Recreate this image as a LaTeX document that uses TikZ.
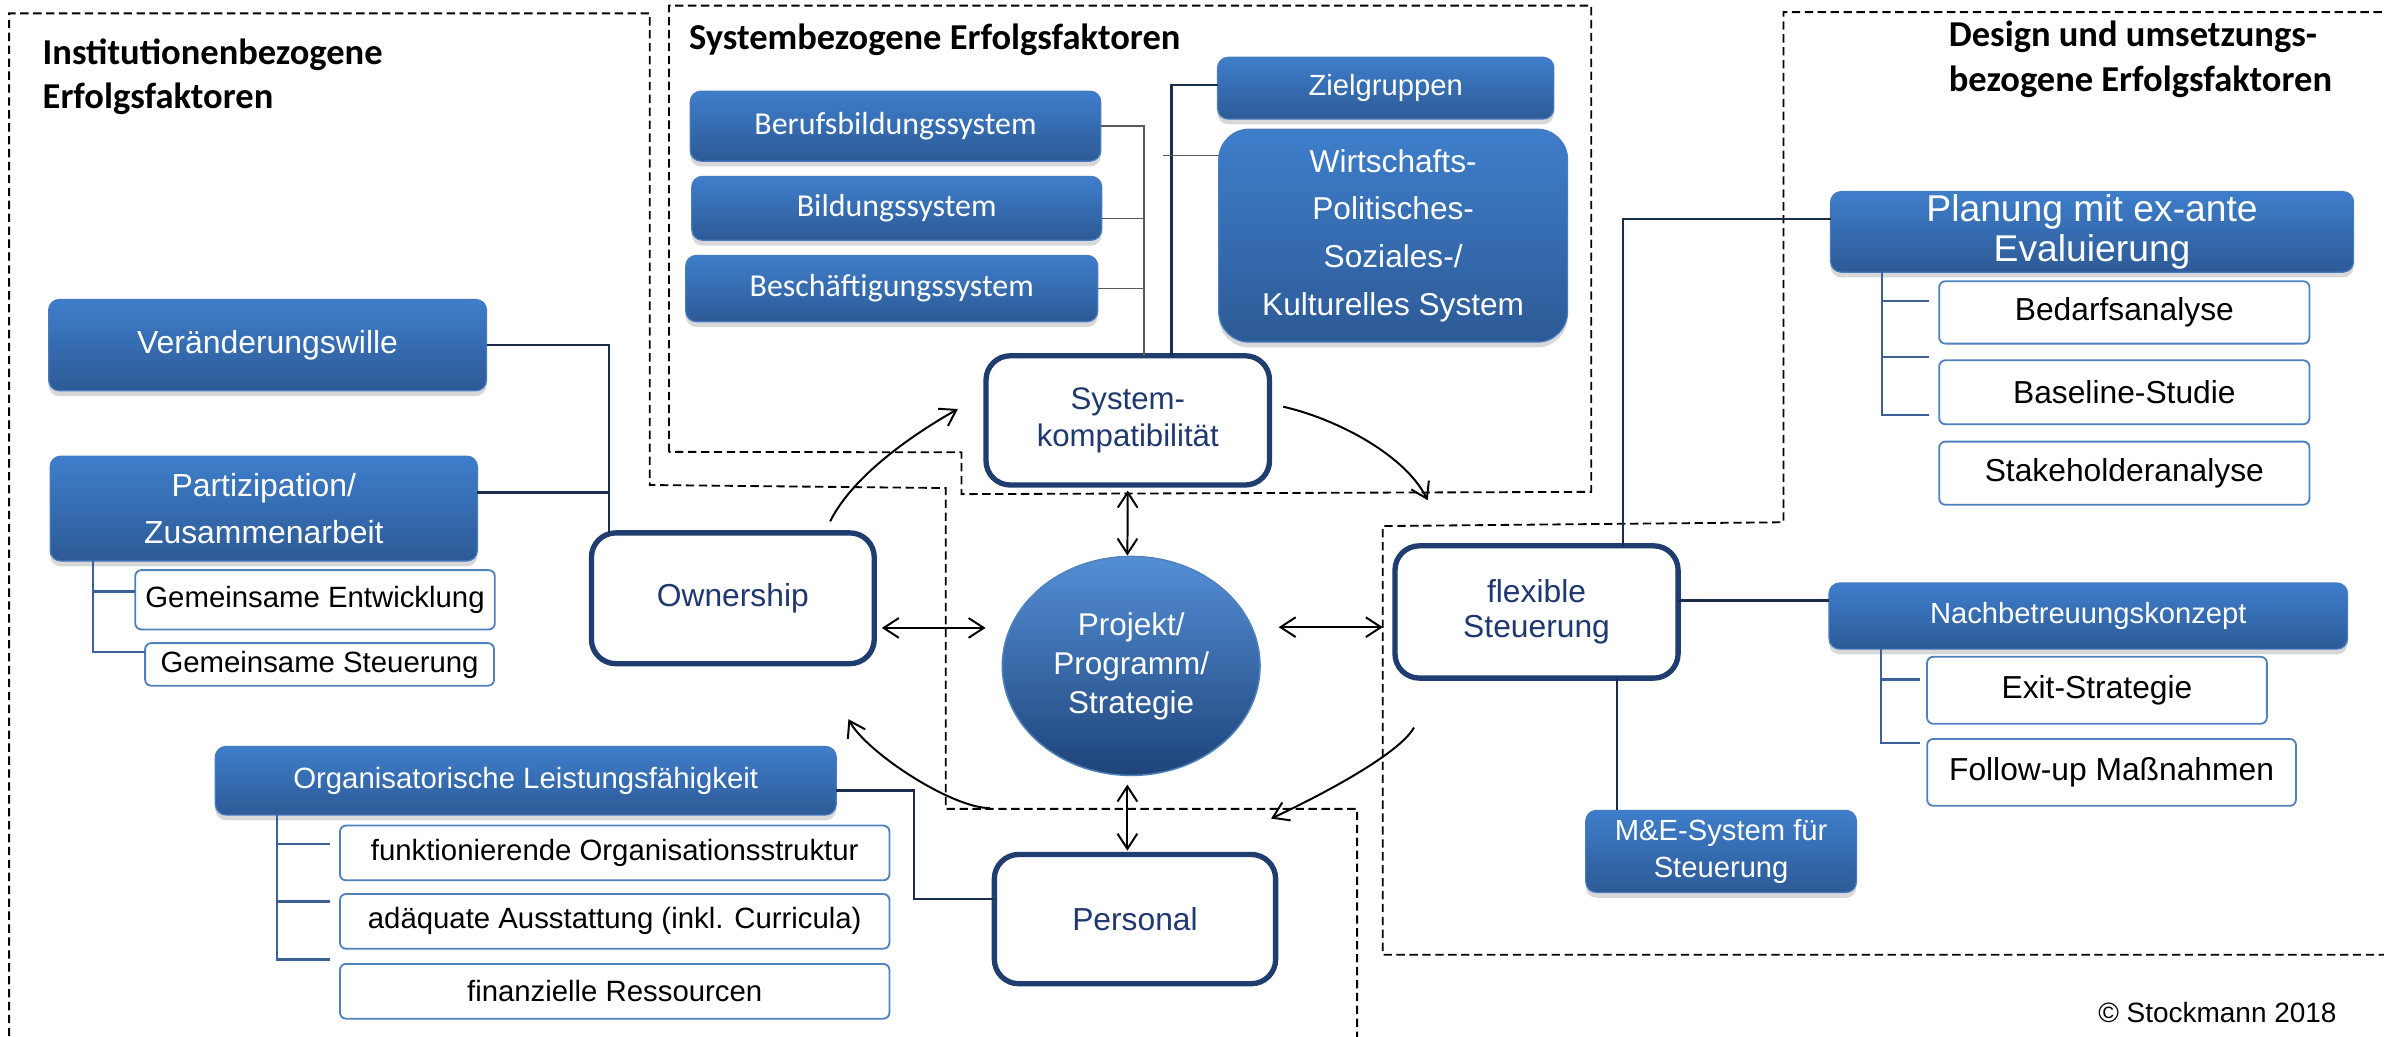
\documentclass[tikz,border=0pt]{standalone}
\usepackage{fontspec}
\setmainfont{Liberation Sans}
\newfontfamily\calib{Carlito}
\usetikzlibrary{shapes.geometric,shadows,arrows.meta,calc}
\definecolor{bltop}{RGB}{62,126,203}
\definecolor{blbot}{RGB}{45,90,150}
\definecolor{blbrd}{RGB}{72,122,192}
\definecolor{wbrd}{RGB}{79,129,189}
\definecolor{navy}{RGB}{31,61,110}
\definecolor{navytext}{RGB}{31,56,112}
\definecolor{connc}{RGB}{28,45,75}
\definecolor{treec}{RGB}{60,95,150}
\definecolor{etop}{RGB}{84,143,214}
\definecolor{ebot}{RGB}{30,68,122}
\newcommand\myfs[2]{\fontsize{#1}{#2}\selectfont}
\tikzset{
  bluebox/.style={draw=blbrd, line width=0.8pt, rounded corners=7pt, top color=bltop, bottom color=blbot,
    text=white, align=center, inner sep=0pt, outer sep=0pt,
    drop shadow={shadow xshift=0pt, shadow yshift=-3.5pt, opacity=0.3}},
  wbox/.style={draw=wbrd, line width=1.2pt, rounded corners=4pt, fill=white, align=center,
    inner sep=0pt, outer sep=0pt},
  mainbox/.style={draw=navy, line width=3.5pt, rounded corners=16pt, fill=white, text=navytext,
    align=center, inner sep=0pt, outer sep=0pt},
  conn/.style={draw=connc, line width=1.5pt},
  thinc/.style={draw=black!65, line width=1pt},
  tree/.style={draw=treec, line width=1.5pt},
  region/.style={draw=black, line width=1.2pt, dash pattern=on 5.5pt off 3pt},
  dbl/.style={line width=1.3pt, {Straight Barb[length=10pt,width=13pt]}-{Straight Barb[length=10pt,width=13pt]}},
  carc/.style={line width=1.3pt, -{Straight Barb[length=10pt,width=13pt]}},
  heading/.style={anchor=west, align=left, inner sep=0pt, font=\calib\bfseries\myfs{24}{28.5}},
}
\begin{document}
\begin{tikzpicture}[x=1pt,y=-1pt]
\useasboundingbox (0,0) rectangle (1568,681.4);
\fill[white] (0,0) rectangle (1568,681.4);

% dashed regions
\draw[region] (6,690) -- (6,8.8) -- (427.3,8.8) -- (427.3,319) -- (622,321) -- (622,532) -- (892.6,532) -- (892.6,690);
\draw[region] (440,297.2) -- (440,3.7) -- (1046.6,3.7) -- (1046.6,323.5) -- (632.4,325) -- (632.4,297.5) -- cycle;
\draw[region] (1575,8) -- (1173,8) -- (1173,343.5) -- (909.5,346) -- (909.5,628) -- (1575,628);

% headings
\node[heading] (h1) at (27.9,50.5) {Institutionenbezogene\\Erfolgsfaktoren};
\node[heading] (h2) at (453,26.3) {Systembezogene Erfolgsfaktoren};
\node[heading, font=\calib\bfseries\myfs{24}{29.7}] (h3) at (1281.6,38.9) {Design und umsetzungs-\\bezogene Erfolgsfaktoren};

% blue boxes
\node[bluebox, minimum width=270pt, minimum height=46pt, font=\calib\myfs{21}{25}] (beruf) at (589,83) {Berufsbildungssystem};
\node[bluebox, minimum width=269.6pt, minimum height=42pt, font=\calib\myfs{21}{25}] (bildung) at (589.8,137) {Bildungssystem};
\node[bluebox, minimum width=271pt, minimum height=43.6pt, font=\calib\myfs{21}{25}] (besch) at (586.5,189.8) {Beschäftigungssystem};
\node[bluebox, minimum width=221.2pt, minimum height=40.6pt, font=\myfs{19.2}{23}] (ziel) at (911.4,58) {Zielgruppen};
\node[bluebox, rounded corners=20pt, minimum width=229.4pt, minimum height=140pt, font=\myfs{20.8}{31.4}] (wirt) at (916.3,155) {Wirtschafts-\\Politisches-\\Soziales-/\\Kulturelles System};
\node[bluebox, minimum width=288pt, minimum height=60pt, font=\myfs{21}{25}] (veraend) at (176,227) {Veränderungswille};
\node[bluebox, minimum width=281pt, minimum height=69pt, font=\myfs{21}{30.4}] (partiz) at (173.5,334.5) {Partizipation/\\Zusammenarbeit};
\node[bluebox, minimum width=408.4pt, minimum height=45pt, font=\myfs{19.3}{23}] (organis) at (345.8,513.5) {Organisatorische Leistungsfähigkeit};
\node[bluebox, minimum width=344pt, minimum height=53pt, font=\myfs{24.5}{26}] (planung) at (1376,152.5) {Planung mit ex-ante\\Evaluierung};
\node[bluebox, minimum width=341pt, minimum height=43.5pt, font=\myfs{19.2}{23}] (nachbetr) at (1373.5,405.2) {Nachbetreuungskonzept};
\node[bluebox, minimum width=178pt, minimum height=54pt, font=\myfs{19.2}{24.6}] (me) at (1132,560) {M\&E-System für\\Steuerung};

% white boxes
\node[wbox, minimum width=236.5pt, minimum height=39pt, font=\myfs{19.3}{23}] (gentw) at (207.2,394.5) {Gemeinsame Entwicklung};
\node[wbox, minimum width=229.5pt, minimum height=28pt, font=\myfs{19.3}{23}] (gsteu) at (210.2,437) {Gemeinsame Steuerung};
\node[wbox, minimum width=361.4pt, minimum height=36pt, font=\myfs{19.3}{23}] (funkt) at (404.3,561) {funktionierende Organisationsstruktur};
\node[wbox, minimum width=361.4pt, minimum height=36pt, font=\myfs{19.3}{23}] (adaeq) at (404.3,606) {adäquate Ausstattung (inkl. Curricula)};
\node[wbox, minimum width=361.4pt, minimum height=36pt, font=\myfs{19.3}{23}] (finanz) at (404.3,652) {finanzielle Ressourcen};
\node[wbox, minimum width=243.5pt, minimum height=41pt, font=\myfs{20.9}{25}] (bedarf) at (1397.2,205.5) {Bedarfsanalyse};
\node[wbox, minimum width=243.5pt, minimum height=42pt, font=\myfs{20.9}{25}] (baseline) at (1397.2,258) {Baseline-Studie};
\node[wbox, minimum width=243.5pt, minimum height=41.5pt, font=\myfs{20.9}{25}] (stakeh) at (1397.2,311.2) {Stakeholderanalyse};
\node[wbox, minimum width=223.5pt, minimum height=44pt, font=\myfs{20.9}{25}] (exit) at (1379.2,454) {Exit-Strategie};
\node[wbox, minimum width=242.5pt, minimum height=44pt, font=\myfs{20.9}{25}] (followup) at (1388.8,508) {Follow-up Maßnahmen};

% main boxes
\node[mainbox, minimum width=186.5pt, minimum height=85pt, font=\myfs{20.5}{24}] (syskomp) at (741.75,276.5) {System-\\kompatibilität};
\node[mainbox, minimum width=186pt, minimum height=86pt, font=\myfs{20.9}{25}] (owner) at (482,393.5) {Ownership};
\node[mainbox, minimum width=186.2pt, minimum height=87pt, font=\myfs{20.9}{23.3}] (flex) at (1010.6,402.5) {flexible\\Steuerung};
\node[mainbox, minimum width=185pt, minimum height=85pt, font=\myfs{20.9}{25}] (personal) at (746.5,604.5) {Personal};

% centre ellipse
\node[ellipse, draw=wbrd, line width=1pt, top color=etop, bottom color=ebot, text=white,
  minimum width=169.5pt, minimum height=144pt, inner sep=0pt, outer sep=0pt, align=center,
  font=\myfs{20.7}{25.6}] (projekt) at (744,438) {Projekt/\\Programm/\\Strategie};

% copyright
\node[anchor=east, inner sep=0pt, font=\myfs{18.4}{22}] (copy) at (1537,666) {© Stockmann 2018};

% connectors left
\coordinate (ownTop) at ([xshift=-81.5pt]owner.north);
\draw[conn] (veraend.east) -| (ownTop);
\draw[conn] ([yshift=10.5pt]partiz.east) -- ([yshift=10.5pt]partiz.east -| ownTop);
\draw[conn] ([yshift=-6.5pt]organis.east) -| ([xshift=-53pt,yshift=13pt]personal.west) -- ([yshift=13pt]personal.west);

% connectors top
\coordinate (skA) at ([xshift=10.75pt]syskomp.north);
\draw[thinc] (beruf.east) -| (skA);
\draw[thinc] ([yshift=-6.6pt]bildung.east) -- ([yshift=-6.6pt]bildung.east -| skA);
\draw[thinc] (besch.east) -- (besch.east -| skA);
\draw[conn] ([xshift=28.75pt]syskomp.north) |- ([yshift=2pt]ziel.west);
\draw[thinc] ([yshift=52.6pt]wirt.west) -- ([yshift=52.6pt,xshift=-36.6pt]wirt.west);

% connectors right
\draw[conn] ([xshift=57pt]flex.north) |- ([yshift=8.5pt]planung.west);
\draw[conn] ([yshift=7.5pt]flex.east) -- ([yshift=7.5pt]flex.east -| nachbetr.west);
\draw[conn] ([xshift=53pt]flex.south) -- ([xshift=53pt]flex.south |- me.north);

% trees
\coordinate (pT) at ([xshift=-112.5pt]partiz.south);
\draw[tree] (pT) |- ([yshift=5.5pt]gentw.west);
\draw[tree] (pT) |- ([yshift=8pt]gsteu.west);
\coordinate (oT) at ([xshift=-163.8pt]organis.south);
\draw[tree] (oT) |- ([xshift=-6.6pt,yshift=6pt]funkt.west);
\draw[tree] (oT) |- ([xshift=-6.6pt,yshift=13pt]adaeq.west);
\draw[tree] (oT) |- ([xshift=-6.6pt,yshift=21pt]finanz.west);
\coordinate (plT) at ([xshift=-138pt]planung.south);
\draw[tree] (plT) |- ([xshift=-7pt,yshift=7.5pt]bedarf.west);
\draw[tree] (plT) |- ([xshift=-7pt,yshift=23pt]baseline.west);
\draw[tree] (plT) |- ([xshift=-7pt,yshift=38.2pt]stakeh.west);
\coordinate (nT) at ([xshift=-136.5pt]nachbetr.south);
\draw[tree] (nT) |- ([xshift=-4.5pt,yshift=7pt]exit.west);
\draw[tree] (nT) |- ([xshift=-4.5pt,yshift=19.3pt]followup.west);

% double arrows
\draw[dbl] ([xshift=5pt,yshift=-19.5pt]owner.east) -- ([xshift=-11pt,yshift=25pt]projekt.west);
\draw[dbl] ([xshift=12.25pt,yshift=25.5pt]projekt.east) -- ([xshift=-8pt,yshift=-10pt]flex.west);
\draw[dbl] ([yshift=-3.7pt]syskomp.south) -- ([xshift=-2.5pt,yshift=0.6pt]projekt.north);
\draw[dbl] ([xshift=-2.5pt,yshift=-6pt]projekt.south) -- ([xshift=-5pt,yshift=2.5pt]personal.north);

% curved arrows
\draw[carc] ([xshift=64pt,yshift=7.6pt]owner.north) .. controls +(15,-30) and +(-30,17) .. ([xshift=-18.5pt,yshift=7.5pt]syskomp.west);
\draw[carc] ([xshift=9pt,yshift=9pt]syskomp.east) .. controls +(35,8) and +(-15,-30) .. ([xshift=-71.6pt,yshift=30pt]flex.north);
\draw[carc] ([xshift=-80.6pt,yshift=-32.5pt]flex.south) .. controls +(-10,18) and +(30,-14) .. ([xshift=89.5pt,yshift=23.6pt]personal.north);
\draw[carc] ([xshift=-95.5pt,yshift=30.5pt]personal.north) .. controls +(-25,0) and +(12,22) .. ([xshift=76pt,yshift=-36.5pt]owner.south);
\end{tikzpicture}
\end{document}
